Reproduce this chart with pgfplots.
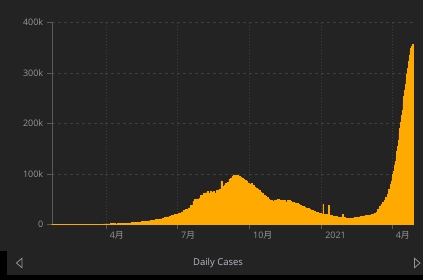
\documentclass[border=0pt]{standalone}
\usepackage{fontspec}
\setmainfont{Open Sans}
\newfontfamily\cjk{Noto Sans CJK SC}
\usepackage{pgfplots}
\pgfplotsset{compat=1.18}
\definecolor{bg}{RGB}{35,35,35}
\definecolor{bar}{RGB}{255,170,0}
\definecolor{grd}{RGB}{62,62,62}
\definecolor{axl}{RGB}{90,90,90}
\definecolor{tlab}{RGB}{150,150,150}
\definecolor{ttl}{RGB}{185,185,200}
\begin{document}
\begin{tikzpicture}
\fill[bg] (0bp,0bp) rectangle (423bp,280bp);
\fill[black] (0bp,0bp) rectangle (423bp,4.5bp);
\fill[black] (0bp,4bp) rectangle (7bp,28.5bp);
\useasboundingbox (0bp,0bp) rectangle (423bp,280bp);
\begin{axis}[
  at={(51.7bp,55.7bp)}, anchor=south west,
  scale only axis, width=361.3bp, height=202bp,
  xmin=22, xmax=483, ymin=0, ymax=400,
  axis lines=left,
  x axis line style={draw={rgb,255:red,190;green,135;blue,30}, -},
  y axis line style={draw=axl, -},
  tick align=outside, major tick length=5bp,
  tick style={draw=axl},
  grid=major,
  y grid style={draw=grd, dash pattern=on 3pt off 3pt, line width=0.5pt},
  x grid style={draw=grd, dash pattern=on 1pt off 2pt, line width=0.5pt},
  xtick={91,182,274,366,456},
  xticklabels={4{\cjk 月},7{\cjk 月},10{\cjk 月},2021,4{\cjk 月}},
  ytick={0,100,200,300,400},
  yticklabels={0,100k,200k,300k,400k},
  ticklabel style={font=\fontsize{9}{10}\selectfont, text=tlab},
  xticklabel style={anchor=north west, xshift=0.5bp, yshift=1bp},
  /pgf/number format/assume math mode=true,
  clip=false,
]
\addplot[const plot, fill=bar, draw=bar, line width=0.5pt] coordinates {
(22,0) (60,0.02) (70,0.05) (80,0.1) (84,0.3) (88,0.6) (91,1.0) (94,0.8) (97,1.6) (100,1.2)
(103,1.0) (106,1.3) (109,1.6) (112,1.5) (115,1.8) (118,2.0) (121,2.4) (124,3.8) (127,3.5) (130,3.9)
(133,4.5) (136,5.2) (139,6.0) (142,6.5) (145,6.8) (148,7.5) (151,8.4) (154,9.3) (157,9.9) (160,10.5)
(163,11.5) (166,13.5) (169,14.5) (172,16.0) (175,18.0) (178,19.5) (181,19.0) (184,22.5) (187,24.5) (190,27.5)
(193,29.0) (196,32.5) (199,38.0) (202,45.0) (204,49.0) (206,50.0) (208,50.5) (210,52.0) (212,57.0) (214,55.0)
(216,61.0) (218,62.0) (220,64.5) (222,60.5) (224,66.0) (226,63.0) (228,65.5) (230,62.0) (232,66.5) (234,68.0)
(236,69.0) (238,86.0) (239,70.0) (240,75.0) (242,78.0) (244,81.0) (246,83.5) (248,89.0) (250,91.0) (252,95.0)
(254,97.5) (256,94.0) (258,97.0) (260,96.0) (262,93.0) (264,92.0) (266,89.0) (268,87.0) (270,86.0) (272,82.0)
(274,79.0) (276,81.0) (278,77.0) (280,74.0) (282,72.0) (284,70.0) (286,67.0) (288,63.0) (290,61.5) (292,58.0)
(294,55.0) (296,54.0) (298,50.0) (300,48.5) (302,47.0) (304,46.0) (306,48.5) (308,47.0) (310,49.0) (312,47.5)
(314,48.0) (316,46.5) (318,47.5) (320,44.5) (321,30.0) (322,47.0) (324,48.0) (326,46.0) (328,44.0) (330,43.0)
(332,42.5) (334,41.0) (336,39.5) (338,38.5) (340,36.5) (342,35.5) (344,34.0) (346,32.5) (348,31.0) (350,29.5)
(352,28.5) (354,27.0) (356,25.0) (358,24.0) (360,23.0) (362,22.0) (364,21.0) (366,20.5) (368,39.5) (369,20.0)
(371,19.5) (373,19.0) (375,37.5) (376,18.0) (378,17.0) (380,16.0) (382,15.5) (384,15.0) (386,14.5) (388,14.0)
(390,13.5) (392,13.0) (393,19.0) (394,13.5) (396,12.5) (398,12.0) (400,11.5) (402,11.5) (404,12.0) (406,12.5)
(408,13.0) (410,13.5) (412,14.0) (414,14.5) (416,15.5) (418,15.5) (420,16.5) (422,17.0) (424,17.5) (426,18.0)
(428,18.5) (430,19.5) (432,20.5) (434,21.5) (436,23.0) (438,29.0) (440,35.0) (442,40.0) (444,44.5) (446,48.0)
(448,53.0) (450,60.0) (452,69.0) (453,58.0) (454,80.0) (455,86.0) (456,92.0) (457,99.0) (458,106.0) (459,116.0)
(460,124.0) (461,133.0) (462,144.0) (463,154.0) (464,166.0) (465,180.0) (466,190.0) (467,203.0) (468,215.0) (469,226.0)
(470,240.0) (471,253.0) (472,266.0) (473,277.0) (474,288.0) (475,298.0) (476,310.0) (477,322.0) (478,334.0) (479,343.0)
(480,349.0) (481,353.0) (482,356.0) (483,356.0)
} \closedcycle;
\end{axis}
\node[text=ttl, font=\fontsize{9.5}{11}\selectfont] at (218bp,17bp) {Daily Cases};
\draw[draw=tlab, line width=0.8pt, line join=miter] (22bp,21.7bp) -- (16.5bp,17bp) -- (22bp,12.3bp) -- cycle;
\draw[draw=tlab, line width=0.8pt, line join=miter] (414.5bp,21.7bp) -- (420bp,17bp) -- (414.5bp,12.3bp) -- cycle;
\end{tikzpicture}
\end{document}
